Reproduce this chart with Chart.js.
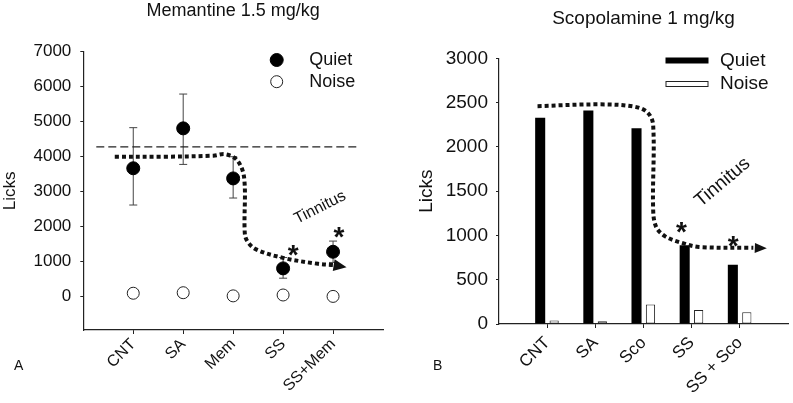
<!DOCTYPE html>
<html>
<head>
<meta charset="utf-8">
<script src="https://cdn.jsdelivr.net/npm/chart.js@4.4.1/dist/chart.umd.min.js"></script>
<style>
  html, body { margin: 0; padding: 0; background: #fff; }
  #wrap { position: relative; width: 793px; height: 403px; font-family: 'Liberation Sans', Arial, sans-serif; }
  #chart-a { position: absolute; left: 0; top: 0; }
  #chart-b { position: absolute; left: 415px; top: 0; }
  .panel-letter { position: absolute; font-size: 14px; line-height: 16px; color: #111; }
</style>
</head>
<body>
<div id="wrap">
  <canvas id="chart-a" width="400" height="403"></canvas>
  <canvas id="chart-b" width="378" height="403"></canvas>
  <div class="panel-letter" style="left:14px; top:357px;">A</div>
  <div class="panel-letter" style="left:433px; top:357px;">B</div>
</div>
<script>
// --- Panel A: memantine 1.5 mg/kg (mean licks +/- error) ---
const memCategories = ['CNT', 'SA', 'Mem', 'SS', 'SS+Mem'];
const memQuiet = [3670, 4810, 3380, 810, 1285];
const memQuietHigh = [4830, 5790, 4000, 1120, 1590];
const memQuietLow = [2620, 3780, 2820, 530, 980];
const memNoise = [100, 115, 25, 50, 10];
const memYTicks = [0, 1000, 2000, 3000, 4000, 5000, 6000, 7000];
const memBaselineX = [0.26, 5.51];
const memBaselineY = [4280, 4280];
// hand-drawn "tinnitus" trend arrow
const memTrendX = [0.63, 1.6, 2.6, 2.85, 3.08, 3.22, 3.23, 3.27, 3.45, 4.0, 4.7, 5.0];
const memTrendY = [4000, 4000, 4030, 4070, 3900, 3400, 1900, 1620, 1360, 1110, 940, 905];
const memArrowTip = [5.27, 845];
const memStarX = [4.2, 5.12];
const memStarY = [1400, 1905];

// --- Panel B: scopolamine 1 mg/kg ---
const scoCategories = ['CNT', 'SA', 'Sco', 'SS', 'SS + Sco'];
const scoQuiet = [2330, 2410, 2210, 890, 670];
const scoNoise = [40, 30, 220, 158, 132];
const scoYTicks = [0, 500, 1000, 1500, 2000, 2500, 3000];
const scoTrendX = [0.8, 2.1, 2.8, 3.08, 3.2, 3.2, 3.26, 3.45, 3.8, 4.15, 5.28];
const scoTrendY = [2460, 2480, 2455, 2390, 2250, 1300, 1100, 990, 915, 870, 860];
const scoArrowTip = [5.56, 855];
const scoStarX = [3.79, 4.86];
const scoStarY = [1118, 960];

const FONT = "'Liberation Sans', Arial, Helvetica, sans-serif";
const INK = '#111';
const AXIS = '#222';

Chart.defaults.font.family = FONT;
Chart.defaults.color = INK;

const toPoints = (xs, ys) => xs.map((x, i) => ({ x, y: ys[i] }));

// smooth dotted path through points already converted to pixels
function strokeSmooth(ctx, pts, tension) {
    const spline = Chart.helpers && Chart.helpers.splineCurve;
    ctx.beginPath();
    ctx.moveTo(pts[0].x, pts[0].y);
    if (!spline) {
        pts.slice(1).forEach(p => ctx.lineTo(p.x, p.y));
    } else {
        const cps = pts.map((p, i) => spline(pts[i - 1] || p, p, pts[i + 1] || p, tension));
        for (let i = 1; i < pts.length; i++) {
            ctx.bezierCurveTo(cps[i - 1].next.x, cps[i - 1].next.y, cps[i].previous.x, cps[i].previous.y, pts[i].x, pts[i].y);
        }
    }
    ctx.stroke();
}

// draws error bars, trend path/arrow head, asterisks, the "Tinnitus" note and the legend
const markupPlugin = {
    id: 'markup',
    beforeDatasetsDraw(chart, args, opts) {
        const { ctx, scales } = chart;
        const xs = scales.x, ys = scales.y;
        ctx.save();
        if (opts.errors) {
            const e = opts.errors;
            ctx.strokeStyle = '#444';
            ctx.lineWidth = 1;
            e.x.forEach((xv, i) => {
                const cx = xs.getPixelForValue(xv);
                const top = ys.getPixelForValue(e.high[i]);
                const bot = ys.getPixelForValue(e.low[i]);
                ctx.beginPath();
                ctx.moveTo(cx, top); ctx.lineTo(cx, bot);
                ctx.moveTo(cx - e.cap, top); ctx.lineTo(cx + e.cap, top);
                ctx.moveTo(cx - e.cap, bot); ctx.lineTo(cx + e.cap, bot);
                ctx.stroke();
            });
        }
        ctx.restore();
    },
    afterDatasetsDraw(chart, args, opts) {
        const { ctx, chartArea, scales } = chart;
        const xs = scales.x, ys = scales.y;
        const px = v => xs.getPixelForValue(v);
        const py = v => ys.getPixelForValue(v);
        ctx.save();

        // trend path drawn here when it can't be a dataset (bar chart grouping)
        if (opts.trend) {
            const t = opts.trend;
            ctx.strokeStyle = INK;
            ctx.lineWidth = t.width;
            ctx.setLineDash(t.dash);
            strokeSmooth(ctx, t.x.map((xv, i) => ({ x: px(xv), y: py(t.y[i]) })), t.tension);
            ctx.setLineDash([]);
        }

        // arrow head at end of trend line
        if (opts.arrow) {
            const a = opts.arrow;
            const x0 = px(a.from[0]), y0 = py(a.from[1]);
            const x1 = px(a.tip[0]), y1 = py(a.tip[1]);
            const ang = Math.atan2(y1 - y0, x1 - x0);
            const bx = x1 - a.length * Math.cos(ang), by = y1 - a.length * Math.sin(ang);
            ctx.fillStyle = INK;
            ctx.beginPath();
            ctx.moveTo(x1, y1);
            ctx.lineTo(bx + a.half * Math.sin(ang), by - a.half * Math.cos(ang));
            ctx.lineTo(bx - a.half * Math.sin(ang), by + a.half * Math.cos(ang));
            ctx.closePath();
            ctx.fill();
        }

        // significance asterisks
        if (opts.stars) {
            const s = opts.stars;
            ctx.fillStyle = INK;
            ctx.font = `bold ${s.size}px ${FONT}`;
            ctx.textAlign = 'center';
            ctx.textBaseline = 'alphabetic';
            s.x.forEach((xv, i) => {
                ctx.fillText('*', px(xv), py(s.y[i]) + s.size * 0.575);
            });
        }

        // rotated note
        if (opts.note) {
            const n = opts.note;
            ctx.save();
            ctx.translate(px(n.x), py(n.y));
            ctx.rotate(n.angle * Math.PI / 180);
            ctx.fillStyle = INK;
            ctx.font = `${n.size}px ${FONT}`;
            ctx.textAlign = 'center';
            ctx.textBaseline = 'middle';
            ctx.fillText(n.text, 0, 0);
            ctx.restore();
        }

        // legend
        if (opts.legend) {
            const L = opts.legend;
            ctx.font = `${L.size}px ${FONT}`;
            ctx.textAlign = 'left';
            ctx.textBaseline = 'middle';
            L.datasets.forEach((idx, i) => {
                const ds = chart.data.datasets[idx];
                const y = chartArea.top + L.top + i * L.gap;
                const mx = chartArea.right - L.markerRight;
                ctx.lineWidth = ds.borderWidth || 1;
                ctx.strokeStyle = ds.borderColor || AXIS;
                ctx.fillStyle = ds.backgroundColor;
                if (L.kind === 'point') {
                    ctx.beginPath();
                    ctx.arc(mx, y, ds.pointRadius, 0, Math.PI * 2);
                    ctx.fill();
                    ctx.stroke();
                } else {
                    ctx.fillRect(mx - L.boxW / 2, y - L.boxH / 2, L.boxW, L.boxH);
                    if (ds.borderWidth) ctx.strokeRect(mx - L.boxW / 2 + 0.5, y - L.boxH / 2 + 0.5, L.boxW - 1, L.boxH - 1);
                }
                ctx.fillStyle = INK;
                ctx.fillText(ds.label, chartArea.right - L.textRight, y);
            });
        }
        ctx.restore();
    }
};

// ---------- Chart A ----------
new Chart(document.getElementById('chart-a'), {
    type: 'scatter',
    data: {
        datasets: [
            {
                label: 'Quiet',
                data: toPoints(memCategories.map((c, i) => i + 1), memQuiet),
                backgroundColor: '#000',
                borderColor: '#000',
                borderWidth: 1,
                pointRadius: 6.5,
                pointHoverRadius: 6.5
            },
            {
                label: 'Noise',
                data: toPoints(memCategories.map((c, i) => i + 1), memNoise),
                backgroundColor: '#fff',
                borderColor: '#222',
                borderWidth: 1,
                pointRadius: 6,
                pointHoverRadius: 6
            },
            {
                type: 'line',
                label: 'Baseline',
                data: toPoints(memBaselineX, memBaselineY),
                borderColor: '#222',
                borderWidth: 1.3,
                borderDash: [8, 4],
                pointRadius: 0,
                fill: false
            },
            {
                type: 'line',
                label: 'Tinnitus',
                data: toPoints(memTrendX, memTrendY),
                borderColor: INK,
                borderWidth: 4,
                borderDash: [4, 3],
                pointRadius: 0,
                tension: 0.35,
                fill: false
            }
        ]
    },
    options: {
        responsive: false,
        animation: false,
        events: [],
        layout: { padding: { left: 0, right: 17, top: 0, bottom: 0 } },
        scales: {
            x: {
                type: 'linear',
                min: 0,
                max: 6,
                afterBuildTicks: s => { s.ticks = memCategories.map((c, i) => ({ value: i + 1 })); },
                afterFit: s => { s.height = 73; s.paddingLeft = 0; s.paddingRight = 0; },
                ticks: {
                    callback: v => memCategories[v - 1],
                    minRotation: 45,
                    maxRotation: 45,
                    autoSkip: false,
                    padding: 1,
                    font: { size: 16 },
                    color: INK
                },
                grid: { drawOnChartArea: false, tickLength: 4, color: AXIS },
                border: { color: AXIS, width: 1.2 }
            },
            y: {
                min: -950,
                max: 7000,
                afterBuildTicks: s => { s.ticks = memYTicks.map(v => ({ value: v })); },
                afterFit: s => { s.width = 83.3; },
                ticks: { callback: v => String(v), padding: 9, font: { size: 17 }, color: INK },
                grid: { drawOnChartArea: false, tickLength: 3, color: AXIS },
                border: { color: AXIS, width: 1.2 },
                title: { display: true, text: 'Licks', font: { size: 17 }, color: INK, padding: { top: 0, bottom: 0 } }
            }
        },
        plugins: {
            legend: { display: false },
            tooltip: { enabled: false },
            title: {
                display: true,
                text: 'Memantine 1.5 mg/kg',
                fullSize: false,
                font: { size: 18, weight: 'normal' },
                color: INK,
                padding: { top: 0, bottom: 30.1 }
            },
            markup: {
                errors: { x: memCategories.map((c, i) => i + 1), high: memQuietHigh, low: memQuietLow, cap: 4 },
                arrow: { from: [memTrendX[memTrendX.length - 1], memTrendY[memTrendY.length - 1]], tip: memArrowTip, length: 13, half: 6 },
                stars: { x: memStarX, y: memStarY, size: 28 },
                note: { text: 'Tinnitus', x: 4.74, y: 2550, angle: -27, size: 16 },
                legend: { kind: 'point', datasets: [0, 1], top: 8.3, gap: 21.7, markerRight: 106.3, textRight: 73.7, size: 18 }
            }
        }
    },
    plugins: [markupPlugin]
});

// ---------- Chart B ----------
new Chart(document.getElementById('chart-b'), {
    type: 'bar',
    data: {
        labels: ['', ...scoCategories, ''],
        datasets: [
            {
                label: 'Quiet',
                data: [null, ...scoQuiet, null],
                backgroundColor: '#000',
                borderWidth: 0,
                categoryPercentage: 0.58,
                barPercentage: 0.72
            },
            {
                label: 'Noise',
                data: [null, ...scoNoise, null],
                backgroundColor: '#fff',
                borderColor: '#222',
                borderWidth: 1,
                borderSkipped: false,
                categoryPercentage: 0.58,
                barPercentage: 0.66
            }
        ]
    },
    options: {
        responsive: false,
        animation: false,
        events: [],
        layout: { padding: { left: 0, right: 5, top: 0, bottom: 0 } },
        scales: {
            x: {
                offset: false,
                afterFit: s => { s.height = 79; s.paddingLeft = 0; s.paddingRight = 0; },
                ticks: {
                    minRotation: 45,
                    maxRotation: 45,
                    autoSkip: false,
                    padding: 5,
                    font: { size: 17 },
                    color: INK
                },
                grid: {
                    offset: false,
                    drawOnChartArea: false,
                    tickLength: 4,
                    color: AXIS,
                    tickColor: c => (c.index === 0 || c.index === 6) ? 'rgba(0,0,0,0)' : AXIS
                },
                border: { color: AXIS, width: 1.2 }
            },
            y: {
                min: 0,
                max: 3000,
                afterBuildTicks: s => { s.ticks = scoYTicks.map(v => ({ value: v })); },
                afterFit: s => { s.width = 84; },
                ticks: { callback: v => String(v), padding: 8, font: { size: 19 }, color: INK },
                grid: { drawOnChartArea: false, tickLength: 3, color: AXIS },
                border: { color: AXIS, width: 1.2 },
                title: { display: true, text: 'Licks', font: { size: 19 }, color: INK, padding: { top: 0, bottom: 0 } }
            }
        },
        plugins: {
            legend: { display: false },
            tooltip: { enabled: false },
            title: {
                display: true,
                text: 'Scopolamine 1 mg/kg',
                fullSize: false,
                font: { size: 19, weight: 'normal' },
                color: INK,
                padding: { top: 7.1, bottom: 28.4 }
            },
            markup: {
                trend: { x: scoTrendX, y: scoTrendY, width: 4, dash: [4, 3], tension: 0.35 },
                arrow: { from: [scoTrendX[scoTrendX.length - 1], scoTrendY[scoTrendY.length - 1]], tip: scoArrowTip, length: 12, half: 5 },
                stars: { x: scoStarX, y: scoStarY, size: 28 },
                note: { text: 'Tinnitus', x: 4.64, y: 1600, angle: -40, size: 19 },
                legend: { kind: 'box', datasets: [0, 1], top: 2.2, gap: 23.5, markerRight: 101, boxW: 43, boxH: 6, textRight: 68, size: 19 }
            }
        }
    },
    plugins: [markupPlugin]
});
</script>
</body>
</html>
